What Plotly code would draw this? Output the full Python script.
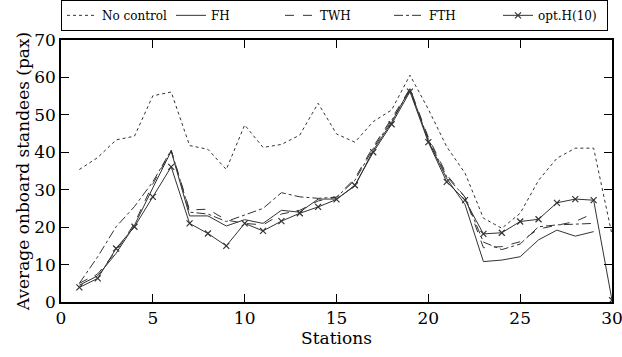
import plotly.graph_objects as go

stations = list(range(1, 31))
stations29 = list(range(1, 30))

no_control = [35.4, 38.6, 43.3, 44.3, 55.1, 56.1, 41.8, 40.8, 35.4, 47.3,
              41.3, 42.1, 44.6, 53.1, 44.9, 42.7, 48.2, 51.3, 60.6, 51.5,
              41.5, 34.4, 22.4, 19.7, 23.7, 32.5, 38.4, 41.1, 41.1, 18.0]
fh = [4.5, 7.0, 13.0, 20.5, 30.5, 40.3, 23.0, 23.0, 20.3, 22.0,
      21.0, 24.5, 24.0, 27.5, 27.5, 31.0, 40.5, 48.0, 57.0, 43.0,
      33.0, 26.0, 10.8, 11.2, 12.1, 16.6, 19.2, 17.6, 18.8]
twh = [5.0, 7.5, 13.5, 21.0, 31.5, 40.5, 24.6, 24.8, 21.9, 21.0,
       20.6, 23.5, 24.5, 27.0, 28.0, 33.0, 41.5, 49.0, 57.0, 44.0,
       34.0, 28.0, 14.5, 14.8, 16.1, 19.5, 20.5, 21.5, 23.7]
fth = [5.0, 12.1, 20.1, 25.5, 32.1, 40.6, 24.0, 23.5, 21.5, 23.2,
       25.0, 29.2, 28.1, 27.7, 28.0, 32.5, 41.0, 48.5, 56.5, 43.5,
       33.5, 28.0, 16.0, 14.0, 15.5, 20.1, 20.6, 20.8, 21.0]
opt = [3.9, 6.3, 14.3, 20.1, 28.1, 36.1, 21.0, 18.3, 15.0, 21.0,
       19.0, 21.6, 23.7, 25.4, 27.4, 31.2, 40.0, 47.5, 56.2, 42.7,
       32.1, 27.2, 18.2, 18.5, 21.5, 22.1, 26.5, 27.5, 27.2, 0.5]

x_ticks = [0, 5, 10, 15, 20, 25, 30]
y_ticks = [0, 10, 20, 30, 40, 50, 60, 70]

col = "#333333"
FONT = "DejaVu Serif"

fig = go.Figure()
fig.add_trace(go.Scatter(x=stations, y=no_control, mode="lines", name="No control",
                         line=dict(color=col, width=1, dash="dot")))
fig.add_trace(go.Scatter(x=stations29, y=fh, mode="lines", name="FH",
                         line=dict(color=col, width=1)))
fig.add_trace(go.Scatter(x=stations29, y=twh, mode="lines", name="TWH",
                         line=dict(color=col, width=1, dash="dash")))
fig.add_trace(go.Scatter(x=stations29, y=fth, mode="lines", name="FTH",
                         line=dict(color=col, width=1, dash="dashdot")))
fig.add_trace(go.Scatter(x=stations, y=opt, mode="lines+markers", name="opt.H(10)",
                         line=dict(color=col, width=1),
                         marker=dict(symbol="x-thin", size=6, color=col,
                                     line=dict(color=col, width=1.2))))

axis_common = dict(showgrid=False, zeroline=False, showline=True, linecolor="black",
                   linewidth=1.5, mirror="ticks", ticks="inside", ticklen=8,
                   tickcolor="black", tickwidth=1.2, ticklabeloverflow="allow",
                   tickfont=dict(family=FONT, size=17, color="black"))

fig.update_xaxes(range=[0, 30], tickvals=x_ticks,
                 title=dict(text="Stations", font=dict(family=FONT, size=17, color="black"),
                            standoff=2),
                 **axis_common)
fig.update_yaxes(range=[0, 70], tickvals=y_ticks,
                 title=dict(text="Average onboard standees (pax)",
                            font=dict(family=FONT, size=17, color="black"), standoff=0),
                 **axis_common)

fig.update_layout(
    width=622, height=357,
    margin=dict(l=61, r=10, t=40, b=55, autoexpand=False),
    paper_bgcolor="white", plot_bgcolor="white",
    font=dict(family=FONT, size=12, color="black"),
    legend=dict(orientation="h", x=0, xanchor="left", y=1.035, yanchor="bottom",
                bordercolor="black", borderwidth=1, itemwidth=30,
                entrywidthmode="pixels", entrywidth=64,
                font=dict(family=FONT, size=12, color="black"),
                tracegroupgap=0, bgcolor="white"),
    showlegend=True,
)

fig.write_html("out.html", config={"displayModeBar": False},
               post_script="document.body.style.margin='0';document.body.style.overflow='hidden';")
